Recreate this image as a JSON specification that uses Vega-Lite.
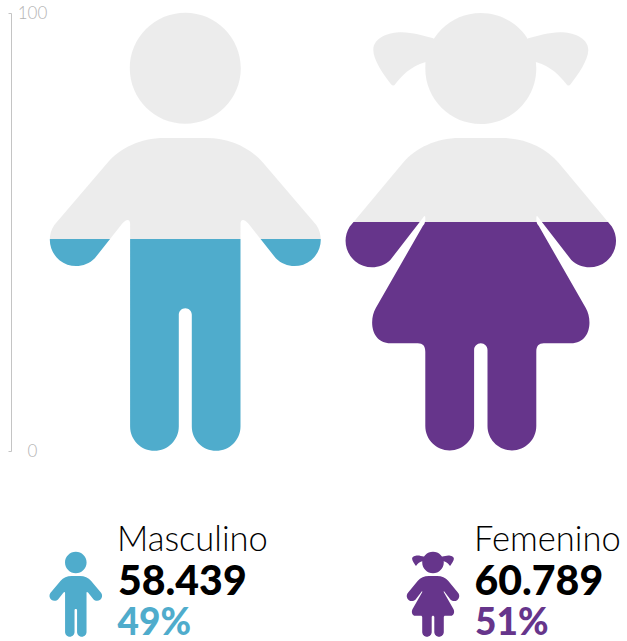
{"$schema":"https://vega.github.io/schema/vega-lite/v6.json","width":627,"height":438,"autosize":"none","padding":{"top":13,"left":0,"right":0,"bottom":190},"background":"white","config":{"view":{"stroke":null},"locale":{"number":{"decimal":",","thousands":".","grouping":[3],"currency":["$",""]}}},"data":{"values":[{"gender":"Masculino","count":58439,"pct":0.49},{"gender":"Femenino","count":60789,"pct":0.51}]},"resolve":{"scale":{"x":"independent"}},"layer":[{"mark":{"type":"point","filled":true,"opacity":1,"size":4},"encoding":{"x":{"field":"gender","type":"nominal","scale":{"type":"point","padding":0,"domain":["Masculino","Femenino"],"range":[185.3,480.8]},"axis":null},"y":{"datum":50,"type":"quantitative","scale":{"domain":[0,100],"nice":false},"axis":{"values":[0,100],"orient":"left","offset":-11,"title":null,"grid":false,"domainColor":"#c4c4c4","domainWidth":1,"tickColor":"#c4c4c4","tickSize":3,"labelColor":"#b4b4b4","labelFont":"Lato","labelFontWeight":300,"labelFontSize":17,"labelAlign":"center","labelBaseline":"middle","labelPadding":-24,"labelFlush":false,"labelBound":false}},"shape":{"field":"gender","type":"nominal","legend":null,"scale":{"domain":["Masculino","Femenino"],"range":["M-55.5,-163.7 a55.5,55.5 0 1,1 111,0 a55.5,55.5 0 1,1 -111,0 Z M-21,-94 L21,-94 C45,-94 65,-84 78,-69 L131,-6.9 A26.3,26.3 0 0 1 90.5,26.3 L63,-8.5 C60,-12 55.2,-14.5 55.2,-8 L55.2,194.5 A24.35,24.35 0 0 1 6.5,194.5 L6.5,82.8 A6.5,6.5 0 0 0 -6.5,82.8 L-6.5,194.5 A24.35,24.35 0 0 1 -55.2,194.5 L-55.2,-8 C-55.2,-14.5 -60,-12 -63,-8.5 L-90.5,26.3 A26.3,26.3 0 0 1 -131,-6.9 L-78,-69 C-65,-84 -45,-94 -21,-94 Z","M-55.5,-163.5 a55.5,55.5 0 1,1 111,0 a55.5,55.5 0 1,1 -111,0 Z M-55.8,-169.7 C-70,-166 -80,-155 -85.5,-148 Q-87.5,-145 -90,-148 C-97,-157 -107.5,-172 -107.5,-182 C-107.5,-195 -90,-200 -79,-199.7 C-68,-199.5 -58,-196.5 -47.5,-193.7 L-30,-170 Z M47.5,-193.7 C58,-196.5 68,-199.5 79,-199.7 C90,-200 107.5,-195 107.5,-182 C107.5,-172 97,-157 90,-148 Q87.5,-145 85.5,-148 C80,-155 70,-166 55.8,-169.7 L30,-170 Z M-21,-94 L21,-94 C45,-94 65,-84 78,-69 L131,-5.6 A26.5,26.5 0 0 1 90.5,28 L58,-14 Q55.5,-18 55.5,-14 L55.5,-11 Q56,-8 58,-6 L105,76 C112,88 110,111.3 90,111.3 L63,111.3 C58,111.3 55.5,114 55.5,120 L55.5,194 A24.4,24.4 0 0 1 6.7,194 L6.7,118 A6.7,6.7 0 0 0 -6.7,118 L-6.7,194 A24.4,24.4 0 0 1 -55.5,194 L-55.5,120 C-55.5,114 -58,111.3 -63,111.3 L-90,111.3 C-110,111.3 -112,88 -105,76 L-58,-6 Q-56,-8 -55.5,-11 L-55.5,-14 Q-55.5,-18 -58,-14 L-90.5,28 A26.5,26.5 0 0 1 -131,-5.6 L-78,-69 C-65,-84 -45,-94 -21,-94 Z"]}},"fill":{"condition":{"test":"datum.gender === 'Masculino'","value":{"gradient":"linear","x1":0,"y1":0,"x2":0,"y2":1,"stops":[{"offset":0,"color":"#ececec"},{"offset":0.516,"color":"#ececec"},{"offset":0.516,"color":"#4facCC"},{"offset":1,"color":"#4facCC"}]}},"value":{"gradient":"linear","x1":0,"y1":0,"x2":0,"y2":1,"stops":[{"offset":0,"color":"#ececec"},{"offset":0.478,"color":"#ececec"},{"offset":0.478,"color":"#66358b"},{"offset":1,"color":"#66358b"}]}}}},{"mark":{"type":"point","filled":true,"opacity":1,"size":0.151},"encoding":{"x":{"field":"gender","type":"nominal","scale":{"type":"point","padding":0,"domain":["Masculino","Femenino"],"range":[75.8,433]},"axis":null},"y":{"datum":-32.7,"type":"quantitative"},"shape":{"field":"gender","type":"nominal","legend":null},"fill":{"field":"gender","type":"nominal","legend":null,"scale":{"domain":["Masculino","Femenino"],"range":["#4facCC","#66358b"]}}}},{"mark":{"type":"text","align":"left","baseline":"alphabetic","font":"Lato","fontWeight":300,"fontSize":34.5,"color":"#000000"},"encoding":{"x":{"field":"gender","type":"nominal","scale":{"type":"point","padding":0,"domain":["Masculino","Femenino"],"range":[117,474]},"axis":null},"y":{"datum":-22.9,"type":"quantitative"},"text":{"field":"gender","type":"nominal"}}},{"mark":{"type":"text","align":"left","baseline":"alphabetic","font":"Lato","fontWeight":900,"fontSize":41,"color":"#000000"},"encoding":{"x":{"field":"gender","type":"nominal","scale":{"type":"point","padding":0,"domain":["Masculino","Femenino"],"range":[118,474.5]},"axis":null},"y":{"datum":-32.9,"type":"quantitative"},"text":{"field":"count","type":"quantitative","format":",d"}}},{"mark":{"type":"text","align":"left","baseline":"alphabetic","font":"Lato","fontWeight":900,"fontSize":37},"encoding":{"x":{"field":"gender","type":"nominal","scale":{"type":"point","padding":0,"domain":["Masculino","Femenino"],"range":[117.5,475]},"axis":null},"y":{"datum":-42,"type":"quantitative"},"text":{"field":"pct","type":"quantitative","format":".0%"},"color":{"field":"gender","type":"nominal","legend":null,"scale":{"domain":["Masculino","Femenino"],"range":["#4facCC","#66358b"]}}}}]}
